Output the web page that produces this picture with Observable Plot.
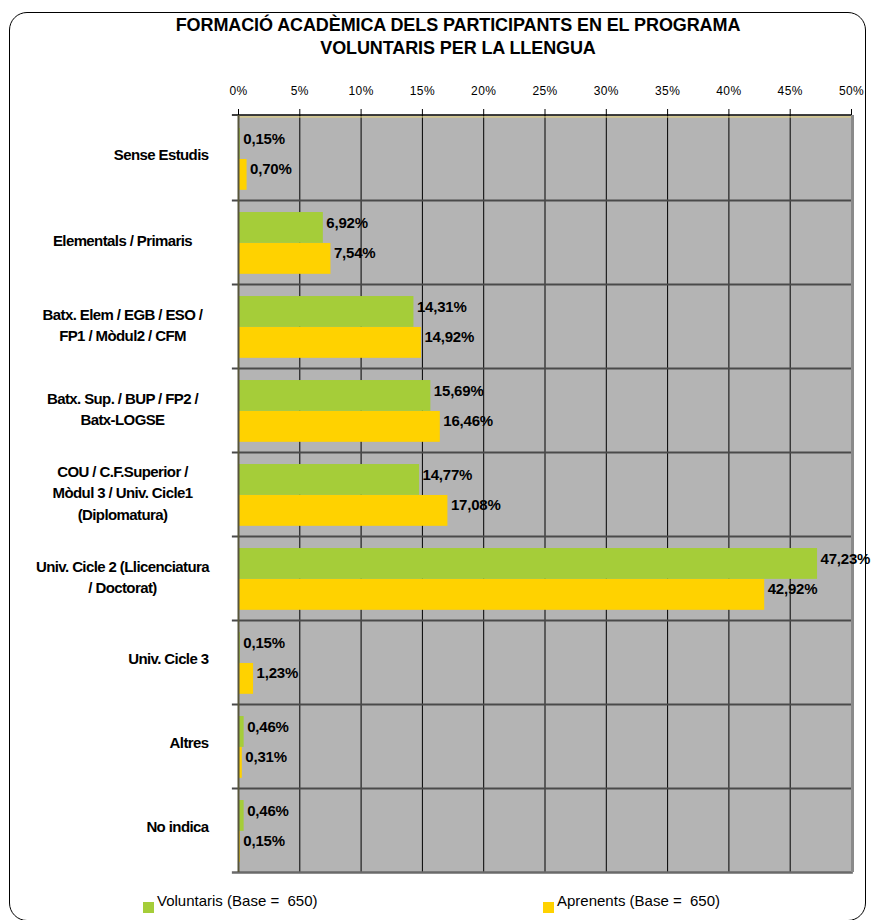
<!DOCTYPE html>
<html>
<head>
<meta charset="utf-8">
<script src="https://cdn.jsdelivr.net/npm/d3@7"></script>
<script src="https://cdn.jsdelivr.net/npm/@observablehq/plot@0.6"></script>
<style>
  html, body { margin: 0; padding: 0; background: #fff; }
  #wrap { position: relative; width: 871px; height: 920px; overflow: hidden; font-family: "Liberation Sans", Arial, sans-serif; }
  #border { position: absolute; left: 9px; top: 12px; width: 857px; height: 909px; border: 1.5px solid #000; border-radius: 18px; box-sizing: border-box; }
  #title { position: absolute; left: 0; width: 916px; top: 14px; text-align: center; font-weight: bold; font-size: 18px; line-height: 23px; color: #000; letter-spacing: -0.1px; }
  #chart { position: absolute; left: 0; top: 0; }
  .leg { position: absolute; top: 892px; font-size: 15px; color: #000; white-space: pre; }
  .sw { position: absolute; width: 11px; height: 11px; top: 902px; }
  svg [aria-description="catlabels"] text { letter-spacing: -0.6px; }
  svg [aria-description="values"] text { letter-spacing: -0.2px; }
  svg g[aria-label="x-axis tick label"] text { letter-spacing: 0.4px; }
</style>
</head>
<body>
<div id="wrap">
  <div id="border"></div>
  <div id="title">FORMACIÓ ACADÈMICA DELS PARTICIPANTS EN EL PROGRAMA<br>VOLUNTARIS PER LA LLENGUA</div>
  <div id="chart"></div>
</div>
<script>
const categories = [
  "Sense Estudis",
  "Elementals / Primaris",
  "Batx. Elem / EGB / ESO /\nFP1 / Mòdul2 / CFM",
  "Batx. Sup. / BUP / FP2 /\nBatx-LOGSE",
  "COU / C.F.Superior /\nMòdul 3 / Univ. Cicle1\n(Diplomatura)",
  "Univ. Cicle 2 (Llicenciatura\n/ Doctorat)",
  "Univ. Cicle 3",
  "Altres",
  "No indica"
];
const series = ["Voluntaris (Base = 650)", "Aprenents (Base = 650)"];
const voluntaris = [0.15, 6.92, 14.31, 15.69, 14.77, 47.23, 0.15, 0.46, 0.46];
const aprenents = [0.70, 7.54, 14.92, 16.46, 17.08, 42.92, 1.23, 0.31, 0.15];
const xTicks = [0, 5, 10, 15, 20, 25, 30, 35, 40, 45, 50];
const colors = ["#a5cd39", "#ffd200"];

const rows = categories.flatMap((c, i) => [
  {cat: c, serie: series[0], value: voluntaris[i]},
  {cat: c, serie: series[1], value: aprenents[i]}
]);

const W = 871, H = 880;
const mTop = 115, mBottom = 8, mLeft = 238, mRight = 20;
const yOpts = {type: "band", domain: categories, range: [mTop, H - mBottom], padding: 0};
const step = Plot.scale({y: yOpts}).bandwidth;

const fmt = v => d3.format(".2f")(v).replace(".", ",") + "%";
const barFrac = 0.368, gapTop = 0.143;
const gTop = step * gapTop, bh = step * barFrac;

const font = "Liberation Sans, Arial, sans-serif";

const chart = Plot.plot({
  width: W, height: H,
  marginTop: mTop, marginBottom: mBottom, marginLeft: mLeft, marginRight: mRight,
  style: {fontFamily: font, fontSize: "12px", color: "#000", background: "transparent"},
  x: {domain: [0, 50], axis: "top", ticks: xTicks, tickFormat: d => d + "%", tickSize: 7, tickPadding: 14, label: null},
  y: {...yOpts, axis: null},
  color: {domain: series, range: colors},
  marks: [
    Plot.frame({fill: "#b4b4b4", stroke: "none"}),
    Plot.ruleX(xTicks.slice(1, -1), {stroke: "#000", strokeWidth: 1}),
    Plot.ruleY(categories.slice(1), {y: d => d, dy: -step / 2, x1: -0.5, x2: 50, stroke: "#4a4a4a", strokeWidth: 2}),
    Plot.barX(rows.filter(d => d.serie === series[0]), {x: "value", y: "cat", fill: "serie", insetTop: gTop, insetBottom: step - gTop - bh}),
    Plot.barX(rows.filter(d => d.serie === series[1]), {x: "value", y: "cat", fill: "serie", insetTop: gTop + bh, insetBottom: step - gTop - 2 * bh}),
    Plot.ruleY([categories[0]], {y: d => d, dy: -step / 2 - 1.5, x1: -0.5, x2: 50, stroke: "#000", strokeWidth: 1.5}),
    Plot.ruleY([categories[0]], {y: d => d, dy: -step / 2 + 0.5, x1: 0, x2: 50.2, stroke: "#e8d47a", strokeWidth: 1}),
    Plot.ruleY([categories[categories.length - 1]], {y: d => d, dy: step / 2, x1: -0.5, x2: 50.15, stroke: "#6a6a6a", strokeWidth: 2.5}),
    Plot.ruleX([0], {stroke: "#57553c", strokeWidth: 2}),
    Plot.ruleX([50], {dx: 1, stroke: "#8a8a8a", strokeWidth: 3}),
    Plot.text(rows.filter(d => d.serie === series[0]), {x: "value", y: "cat", text: d => fmt(d.value), textAnchor: "start", dx: 3, dy: -19, fontWeight: "bold", fontSize: 15, fill: "#000", ariaDescription: "values"}),
    Plot.text(rows.filter(d => d.serie === series[1]), {x: "value", y: "cat", text: d => fmt(d.value), textAnchor: "start", dx: 3, dy: 11, fontWeight: "bold", fontSize: 15, fill: "#000", ariaDescription: "values"}),
    Plot.text(categories.filter(d => d.length > 16), {y: d => d, text: d => d, frameAnchor: "left", textAnchor: "middle", dx: -116, dy: -3, fontWeight: "bold", fontSize: 15, lineHeight: 1.45, fill: "#000", ariaDescription: "catlabels"}),
    Plot.text(categories.filter(d => d.length <= 16), {y: d => d, text: d => d, frameAnchor: "left", textAnchor: "end", dx: -30, dy: -3, fontWeight: "bold", fontSize: 15, fill: "#000", ariaDescription: "catlabels"})
  ]
});
document.getElementById("chart").appendChild(chart);

// legend
const wrap = document.getElementById("wrap");
const legX = [143, 543];
series.forEach((s, i) => {
  const sw = document.createElement("div");
  sw.className = "sw";
  sw.style.left = legX[i] + "px";
  sw.style.background = colors[i];
  wrap.appendChild(sw);
  const t = document.createElement("div");
  t.className = "leg";
  t.style.left = (legX[i] + 14) + "px";
  t.textContent = s.replace("= ", "=  ");
  wrap.appendChild(t);
});
</script>
</body>
</html>
